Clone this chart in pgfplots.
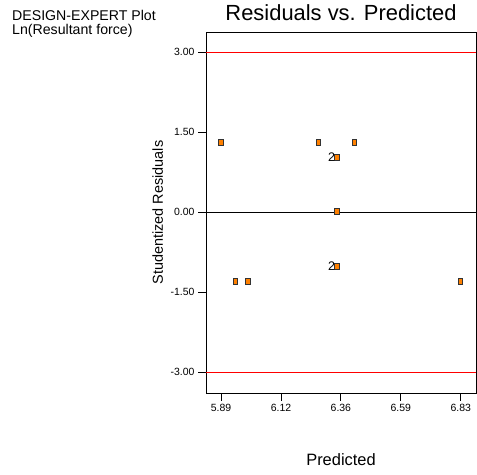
\documentclass[border=0pt]{standalone}
\usepackage{fontspec}
\setmainfont{Liberation Sans}
\usepackage{pgfplots}
\pgfplotsset{compat=1.18}
\definecolor{mkorange}{RGB}{255,128,0}
\begin{document}
\begin{tikzpicture}[x=1bp,y=1bp]
\path[use as bounding box] (0,0) rectangle (477,475);
\node[anchor=base west,font=\fontsize{14.2}{15}\selectfont,inner sep=0] at (12,475-20.5) {DESIGN-EXPERT Plot};
\node[anchor=base west,font=\fontsize{14.2}{15}\selectfont,inner sep=0] at (12,475-34.5) {Ln(Resultant force)};
\begin{axis}[
  at={(206bp,82bp)}, anchor=south west,
  scale only axis, width=270bp, height=361bp,
  xmin=5.831, xmax=6.890, ymin=-3.39, ymax=3.375,
  axis line style={black,line width=0.8bp},
  tick align=outside, major tick length=8bp,
  tick style={black,line width=0.8bp},
  xtick={5.89,6.125,6.36,6.595,6.83},
  xticklabels={5.89,6.12,6.36,6.59,6.83},
  ytick={-3,-1.5,0,1.5,3},
  yticklabels={-3.00,-1.50,0.00,1.50,3.00},
  xtick pos=bottom, ytick pos=left,
  ticklabel style={font=\fontsize{10.5}{12}\selectfont},
  title={Residuals vs. Predicted},
  title style={font=\fontsize{22}{26}\selectfont, at={(axis description cs:0.5,1)}, anchor=base, yshift=6bp, inner sep=0},
  xlabel={Predicted},
  xlabel style={font=\fontsize{16.5}{19}\selectfont, at={(axis description cs:0.5,0)}, anchor=base, yshift=-73bp, inner sep=0},
  ylabel={Studentized Residuals},
  ylabel style={font=\fontsize{14.5}{17}\selectfont, at={(axis description cs:-0.1593,0.5)}, anchor=base, inner sep=0},
  clip=false,
]
\addplot[red, line width=0.9bp, forget plot] coordinates {(5.831,3) (6.890,3)};
\addplot[red, line width=0.9bp, forget plot] coordinates {(5.831,-3) (6.890,-3)};
\addplot[black, line width=0.8bp, forget plot] coordinates {(5.831,0) (6.890,0)};
\addplot[only marks, mark=square*, mark size=3bp,
  mark options={xscale=0.7, fill=mkorange, draw=black!80, line width=0.6bp}]
  coordinates {
    (5.889,1.30) (6.272,1.30) (6.412,1.30)
    (6.344,1.03) (6.344,0.01) (6.344,-1.01)
    (5.945,-1.29) (5.995,-1.29) (6.827,-1.29)
  };
\addplot[only marks, mark=none,
  nodes near coords, point meta=explicit symbolic,
  nodes near coords style={anchor=east, font=\fontsize{12.5}{14}\selectfont, inner sep=0, xshift=-1.5bp}]
  coordinates {
    (6.344,1.03) [2]
    (6.344,-1.01) [2]
  };
\end{axis}
\end{tikzpicture}
\end{document}
